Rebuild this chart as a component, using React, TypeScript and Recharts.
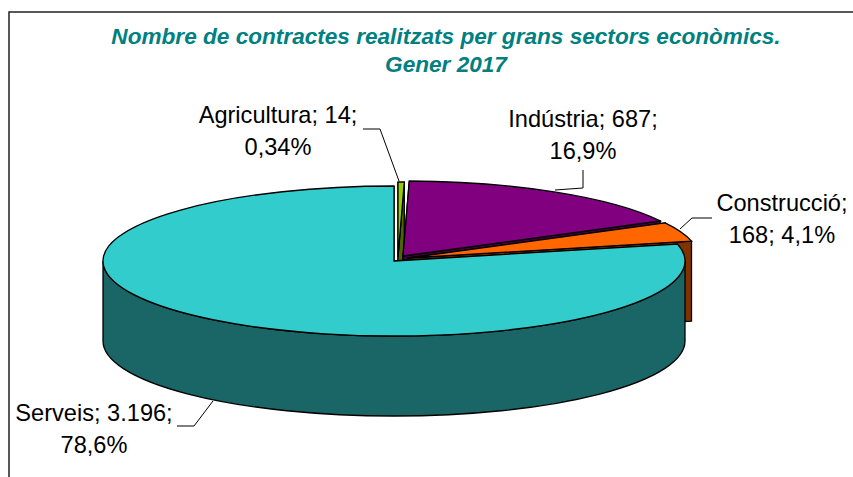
import React from 'react';
import { PieChart, Pie } from 'recharts';

const sectors = ['Agricultura', 'Indústria', 'Construcció', 'Serveis'];
const contracts = [14, 687, 168, 3196];

const topColors = ['#99CC00', '#800080', '#FF6600', '#33CCCC'];
const wallColors = ['#4D6600', '#400040', '#803300', '#1A6666'];

const data = sectors.map((name, i) => ({
  name,
  value: contracts[i],
  fill: topColors[i],
}));

// 3D look: squash the circle recharts gives us and extrude it
const ELLIPSE_RATIO = 75 / 291;
const DEPTH = 80;
const explode = [
  { x: 4, y: -4 },
  { x: 9, y: -5 },
  { x: 14, y: -3 },
  { x: 0, y: 0 },
];

const labelLayout = [
  { lines: ['Agricultura; 14;', '0,34%'], x: 278, y: 123, leader: '363,129 380,129 399,181' },
  { lines: ['Indústria; 687;', '16,9%'], x: 583, y: 127, leader: '555,190 583,188 583,170' },
  { lines: ['Construcció;', '168; 4,1%'], x: 782, y: 211, leader: '712,218 692,218 680,229' },
  { lines: ['Serveis; 3.196;', '78,6%'], x: 94, y: 421, leader: '177,426 194,426 213,401' },
];

const rad = (deg: number) => (deg * Math.PI) / 180;

const SlabSector = (props: any) => {
  const { cx, cy, outerRadius, startAngle, endAngle, fill, index } = props;
  const i = index ?? sectors.indexOf(props.name);
  const ox = cx + explode[i].x;
  const oy = cy + explode[i].y;
  const rx = outerRadius;
  const ry = outerRadius * ELLIPSE_RATIO;
  const pt = (a: number, dy = 0) => `${ox + rx * Math.cos(rad(a))},${oy - ry * Math.sin(rad(a)) + dy}`;
  const large = Math.abs(endAngle - startAngle) > 180 ? 1 : 0;
  const top = `M${ox},${oy} L${pt(startAngle)} A${rx},${ry} 0 ${large} 1 ${pt(endAngle)} Z`;

  const face = (a: number) => `M${ox},${oy} L${pt(a)} L${pt(a, DEPTH)} L${ox},${oy + DEPTH} Z`;
  // outer wall only shows on the front half of the ellipse
  const from = Math.min(startAngle, 0);
  const to = Math.max(endAngle, -180);
  const front = from > to
    ? `M${pt(from)} A${rx},${ry} 0 0 1 ${pt(to)} L${pt(to, DEPTH)} A${rx},${ry} 0 0 0 ${pt(from, DEPTH)} Z`
    : '';

  return (
    <g>
      <path d={face(startAngle)} fill={wallColors[i]} stroke="#000" strokeWidth={1.3} />
      <path d={face(endAngle)} fill={wallColors[i]} stroke="#000" strokeWidth={1.3} />
      {front && <path d={front} fill={wallColors[i]} stroke="#000" strokeWidth={1.3} />}
      <path d={top} fill={fill} stroke="#000" strokeWidth={1.3} />
    </g>
  );
};

const SectorLabel = (props: any) => {
  const l = labelLayout[props.index];
  return (
    <g>
      <polyline points={l.leader} fill="none" stroke="#000" strokeWidth={1} />
      {l.lines.map((t, n) => (
        <text
          key={t}
          x={l.x}
          y={l.y + n * 32}
          textAnchor="middle"
          fontFamily="Liberation Sans"
          fontSize={23.6}
          fill="#000"
        >
          {t}
        </text>
      ))}
    </g>
  );
};

export default function App() {
  return (
    <div style={{ position: 'absolute', left: 0, top: 0, width: 853, height: 477, background: '#fff' }}>
      <PieChart width={853} height={477} margin={{ top: 0, right: 0, bottom: 0, left: 0 }}>
        <polyline points="9,477 9,12 853,12" fill="none" stroke="#222" strokeWidth={1.5} />
        <text x={446} y={44} textAnchor="middle" fontFamily="Liberation Sans" fontSize={22.6} fontWeight="bold" fontStyle="italic" fill="#008080">
          Nombre de contractes realitzats per grans sectors econòmics.
        </text>
        <text x={446} y={72} textAnchor="middle" fontFamily="Liberation Sans" fontSize={22.6} fontWeight="bold" fontStyle="italic" fill="#008080">
          Gener 2017
        </text>
        <Pie
          data={data}
          dataKey="value"
          nameKey="name"
          cx={394}
          cy={261}
          outerRadius={291}
          startAngle={90}
          endAngle={-270}
          paddingAngle={0}
          stroke="#000"
          shape={SlabSector}
          label={SectorLabel}
          labelLine={false}
          isAnimationActive={false}
        />
      </PieChart>
    </div>
  );
}
